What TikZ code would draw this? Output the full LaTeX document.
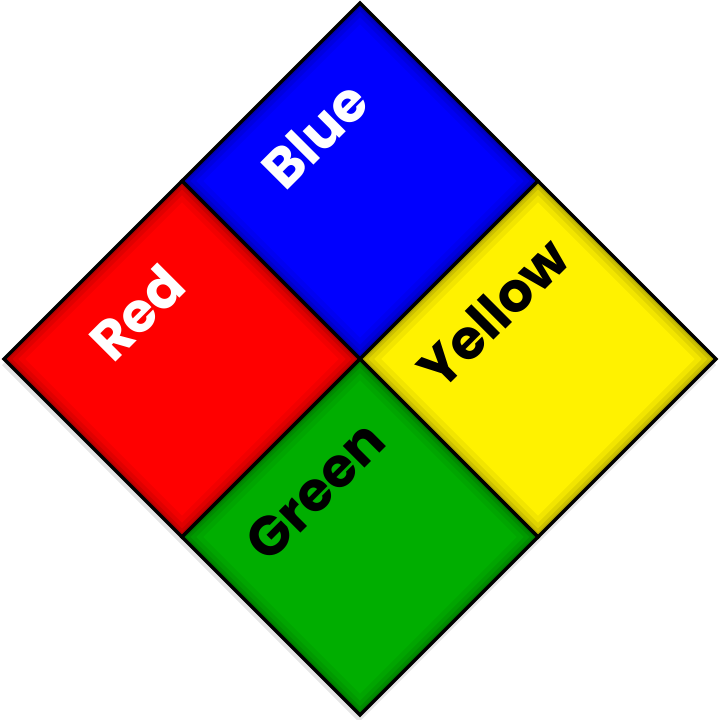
\documentclass[tikz,border=0pt]{standalone}
\usepackage{fontspec}
\setmainfont{Poppins}
\usetikzlibrary{calc}

\begin{document}
\begin{tikzpicture}[x=0.025cm, y=-0.025cm,
  tile/.style={draw=black, line width=2.4pt, line join=miter},
  tag/.style={font=\fontsize{39}{39}\selectfont\bfseries, rotate=45, inner sep=0pt}]

  \useasboundingbox (0,0) rectangle (720,720);

  % ===== Tile centres (half diagonal 178) =====
  \coordinate (cb) at (360,181);
  \coordinate (cr) at (182,359);
  \coordinate (cy) at (538,359);
  \coordinate (cg) at (360,537);

  % Soft shadow behind the whole diamond
  \fill[black, opacity=0.10] (359,8) -- (716,365) -- (359,722) -- (2,365) -- cycle;

  % ===== Tiles with inner shade =====
  \foreach \c/\col in {cb/blue, cr/red, cy/yellow, cg/{rgb,255:red,0;green,174;blue,0}} {
    \fill[fill=\col] ($(\c)+(0,-178)$) -- ($(\c)+(178,0)$) -- ($(\c)+(0,178)$) -- ($(\c)+(-178,0)$) -- cycle;
    \begin{scope}
      \clip ($(\c)+(0,-178)$) -- ($(\c)+(178,0)$) -- ($(\c)+(0,178)$) -- ($(\c)+(-178,0)$) -- cycle;
      \foreach \w/\o in {30/0.05, 20/0.07, 12/0.09, 6/0.13} {
        \draw[black, opacity=\o, line width=\w*0.025cm]
          ($(\c)+(0,-178)$) -- ($(\c)+(178,0)$) -- ($(\c)+(0,178)$) -- ($(\c)+(-178,0)$) -- cycle;
      }
    \end{scope}
    \draw[tile] ($(\c)+(0,-178)$) -- ($(\c)+(178,0)$) -- ($(\c)+(0,178)$) -- ($(\c)+(-178,0)$) -- cycle;
  }

  % ===== Labels =====
  \node[tag, white] (lb) at ($(cb)+(-45,-46)$) {Blue};
  \node[tag, white] (lr) at ($(cr)+(-45,-46)$) {Red};
  \node[tag, black] (ly) at ($(cy)+(-45,-46)$) {Yellow};
  \node[tag, black] (lg) at ($(cg)+(-45,-46)$) {Green};

\end{tikzpicture}
\end{document}
